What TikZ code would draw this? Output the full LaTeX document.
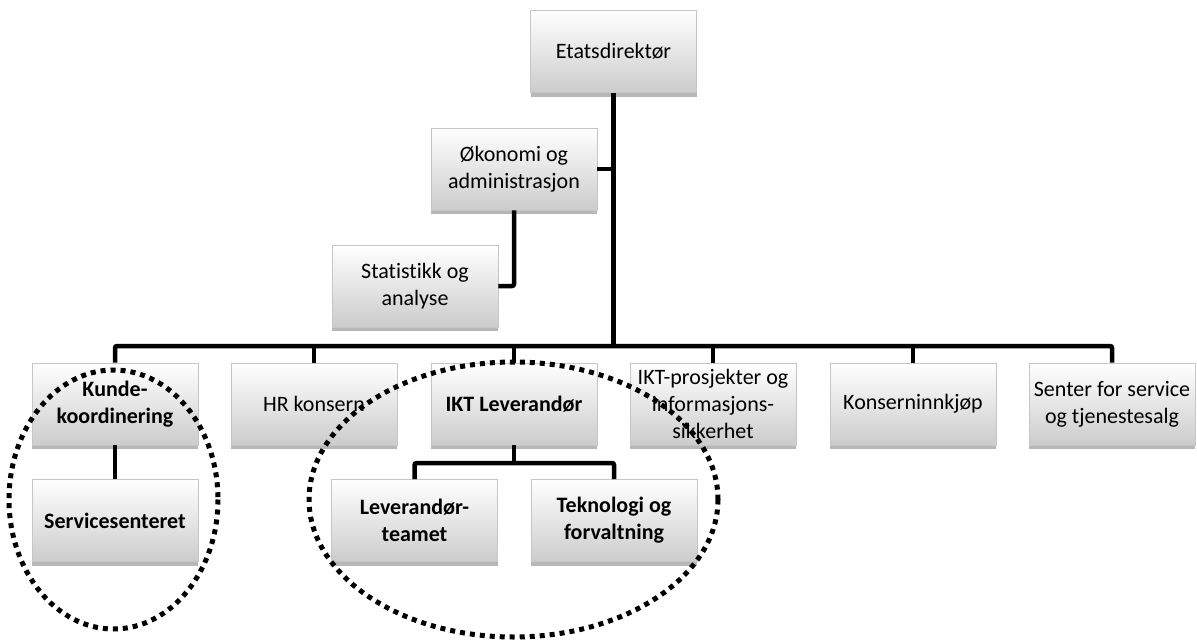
\documentclass[tikz,border=0pt]{standalone}
\usepackage{fontspec}
\setmainfont{Carlito}[Ligatures=NoCommon]
\usetikzlibrary{shadows}
\tikzset{
  orgbox/.style={rectangle, minimum width=166pt, minimum height=82pt, inner sep=1pt,
    top color=white, bottom color=gray!40, draw=gray!45, line width=0.8pt,
    align=center, font=\fontsize{22}{27}\selectfont,
    drop shadow={shadow xshift=0pt, shadow yshift=-4pt, opacity=0.4, fill=black!70}},
  boldbox/.style={orgbox, font=\fontsize{22}{27}\selectfont\bfseries},
  conn/.style={line width=4.5pt, black, rounded corners=2pt},
  ring/.style={line width=5pt, dash pattern=on 5pt off 5pt, black}
}
\begin{document}
\begin{tikzpicture}[x=1pt,y=-1pt]
\useasboundingbox (0,0) rectangle (1197,642);
\coordinate (busy) at (0,346);
\coordinate (suby) at (0,463);
% nodes
\node[orgbox] (ed) at (613.5,51.5) {Etatsdirektør};
\node[orgbox] (ok) at (514,169) {Økonomi og\\administrasjon};
\node[orgbox] (st) at (415,286) {Statistikk og\\analyse};
\node[boldbox] (kunde) at (115,404) {Kunde-\\koordinering};
\node[orgbox] (hr) at (314,404) {HR konsern};
\node[boldbox] (ikt) at (514,404) {IKT Leverandør};
\node[orgbox] (iktp) at (713,404) {IKT-prosjekter og\\informasjons-\\sikkerhet};
\node[orgbox] (kons) at (913,404) {Konserninnkjøp};
\node[orgbox] (senter) at (1112,404) {Senter for service\\og tjenestesalg};
\node[boldbox] (serv) at (115,520.5) {Servicesenteret};
\node[boldbox] (lev) at (414.5,520.5) {Leverandør-\\teamet};
\node[boldbox] (tek) at (614,520.5) {Teknologi og\\forvaltning};
% connectors
\draw[conn] (ed.south) -- (ed.south |- busy);
\draw[conn] (ok.east) -- (ok.east -| ed.south);
\draw[conn] (st.east) -| (ok.south);
\draw[conn] (kunde.north) -- (kunde.north |- busy) -- (senter.north |- busy) -- (senter.north);
\draw[conn] (hr.north) -- (hr.north |- busy);
\draw[conn] (ikt.north) -- (ikt.north |- busy);
\draw[conn] (iktp.north) -- (iktp.north |- busy);
\draw[conn] (kons.north) -- (kons.north |- busy);
\draw[conn] (kunde.south) -- (serv.north);
\draw[conn] (ikt.south) -- (ikt.south |- suby);
\draw[conn] (lev.north) -- (lev.north |- suby) -- (tek.north |- suby) -- (tek.north);
% dotted rings
\draw[ring] (113.5,499.5) ellipse [x radius=104.5, y radius=129.5];
\draw[ring] (513.5,499.5) ellipse [x radius=204.5, y radius=137.5];
\end{tikzpicture}
\end{document}
